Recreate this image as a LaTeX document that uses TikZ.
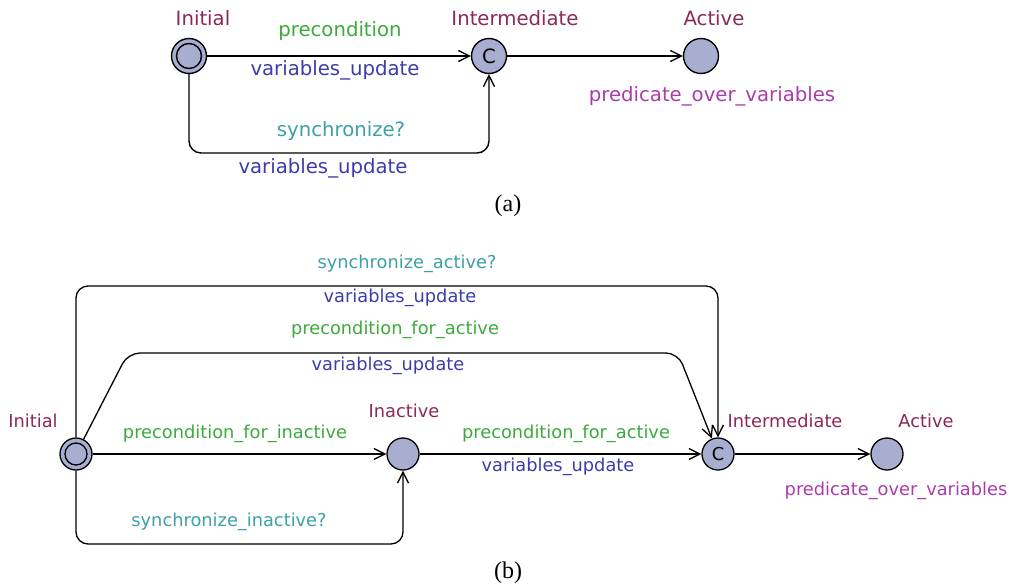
\documentclass[tikz,border=0pt]{standalone}
\usepackage{fontspec}
\setmainfont{DejaVu Sans}
\newfontfamily\capfont{Liberation Serif}
\usetikzlibrary{arrows.meta}
\definecolor{locfill}{RGB}{168,174,208}
\definecolor{namecol}{RGB}{140,40,90}
\definecolor{guardcol}{RGB}{60,170,60}
\definecolor{synccol}{RGB}{60,160,165}
\definecolor{assigncol}{RGB}{60,60,170}
\definecolor{invcol}{RGB}{170,60,170}
\tikzset{
  loc/.style={circle,draw=black,line width=1.4pt,fill=locfill,minimum size=35pt,inner sep=0pt},
  inner/.style={circle,draw=black,line width=1.4pt,minimum size=25pt,inner sep=0pt},
  lbl/.style={inner sep=0pt,font=\fontsize{19.7}{23}\selectfont},
  namelbl/.style={lbl,text=namecol},
  guardlbl/.style={lbl,text=guardcol},
  synclbl/.style={lbl,text=synccol},
  assignlbl/.style={lbl,text=assigncol},
  invlbl/.style={lbl,text=invcol},
  caplbl/.style={inner sep=0pt,font=\capfont\fontsize{24}{28}\selectfont},
  edge/.style={line width=1.4pt,-{Straight Barb[length=11pt,width=11pt,line width=1.3pt]}},
  loopedge/.style={edge,rounded corners=12pt},
  small/.style={lbl/.append style={font=\fontsize{17.8}{21}\selectfont},
    loc/.append style={minimum size=32pt,line width=1.3pt},
    inner/.append style={minimum size=22pt,line width=1.3pt},
    edge/.append style={line width=1.3pt}}
}
\begin{document}
\begin{tikzpicture}[x=1pt,y=-1pt]
\useasboundingbox (0,0) rectangle (1009,584);
% ---------- (a) ----------
\node[loc] (ai) at (189,56) {};
\node[inner] (aiin) at (ai) {};
\node[loc,font=\fontsize{19.7}{23}\selectfont] (am) at (489,56) {C};
\node[loc] (aa) at (701,56) {};
\node[namelbl] (ain) at (203,18) {Initial};
\node[namelbl] (amn) at (515,18) {Intermediate};
\node[namelbl] (aan) at (714,18) {Active};
\node[invlbl] (ainv) at (712,96) {predicate\_over\_variables};
\draw[edge] (ai) -- (am);
\node[guardlbl] (ag1) at (340,31) {precondition};
\node[assignlbl] (aas1) at (335,70) {variables\_update};
\coordinate (abl) at (189,153);
\coordinate (abr) at (489,153);
\draw[loopedge] (ai) -- (abl) -- (abr) -- (am);
\node[synclbl] (as1) at (341,131) {synchronize?};
\node[assignlbl] (aas2) at (323,168) {variables\_update};
\draw[edge] (am) -- (aa);
\node[caplbl] (capa) at (508,206) {(a)};
% ---------- (b) ----------
\begin{scope}[small]
\node[loc] (bi) at (76,454) {};
\node[inner] (biin) at (bi) {};
\node[loc] (bn) at (403,454) {};
\node[loc,font=\fontsize{17.8}{21}\selectfont] (bm) at (718,454) {C};
\node[loc] (ba) at (887,454) {};
\node[namelbl] (bin) at (33,421) {Initial};
\node[namelbl] (bnn) at (404,411) {Inactive};
\node[namelbl] (bmn) at (785,421) {Intermediate};
\node[namelbl] (ban) at (926,421) {Active};
\node[invlbl] (binv) at (896,491) {predicate\_over\_variables};
% top loop
\coordinate (btl) at (76,286);
\coordinate (btr) at (718,286);
\draw[loopedge] (bi) -- (btl) -- (btr) -- (bm);
\node[synclbl] (bs1) at (407,264) {synchronize\_active?};
\node[assignlbl] (bas1) at (400,298) {variables\_update};
% middle path
\coordinate (bml) at (128,353);
\coordinate (bmr) at (678,353);
\draw[loopedge] (bi) -- (bml) -- (bmr) -- (bm);
\node[guardlbl] (bg1) at (395,330) {precondition\_for\_active};
\node[assignlbl] (bas2) at (388,366) {variables\_update};
% straight
\draw[edge] (bi) -- (bn);
\node[guardlbl] (bg2) at (235,434) {precondition\_for\_inactive};
\draw[edge] (bn) -- (bm);
\node[guardlbl] (bg3) at (566,434) {precondition\_for\_active};
\node[assignlbl] (bas3) at (558,467) {variables\_update};
% bottom loop
\coordinate (bbl) at (76,544);
\coordinate (bbr) at (403,544);
\draw[loopedge] (bi) -- (bbl) -- (bbr) -- (bn);
\node[synclbl] (bs2) at (229,522) {synchronize\_inactive?};
\draw[edge] (bm) -- (ba);
\end{scope}
\node[caplbl] (capb) at (508,573) {(b)};
\end{tikzpicture}
\end{document}
